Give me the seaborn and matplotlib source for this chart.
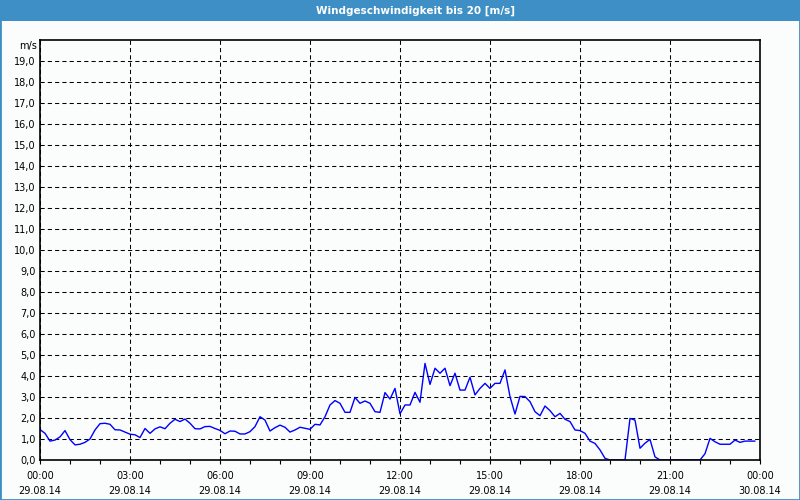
import pandas as pd
import matplotlib
matplotlib.use("Agg")
import matplotlib.pyplot as plt
import matplotlib.dates as mdates
from matplotlib.patches import Rectangle
from matplotlib.ticker import FuncFormatter
import seaborn as sns

# Windgeschwindigkeit, 10-Minuten-Werte am 29.08.14 (m/s)
start = "2014-08-29 00:00"
speed = [
    1.45, 1.27, 0.90, 0.95, 1.10, 1.40, 0.97, 0.72, 0.75, 0.84, 1.00, 1.43,
    1.73, 1.75, 1.70, 1.44, 1.43, 1.33, 1.23, 1.20, 1.07, 1.50, 1.27, 1.48,
    1.58, 1.49, 1.75, 1.94, 1.83, 1.95, 1.75, 1.49, 1.48, 1.59, 1.60, 1.50,
    1.41, 1.25, 1.38, 1.37, 1.24, 1.24, 1.35, 1.59, 2.06, 1.90, 1.38, 1.54,
    1.66, 1.56, 1.33, 1.43, 1.56, 1.51, 1.46, 1.70, 1.67, 2.06, 2.62, 2.83,
    2.70, 2.27, 2.27, 2.98, 2.70, 2.81, 2.70, 2.30, 2.27, 3.21, 2.90, 3.41,
    2.20, 2.62, 2.62, 3.22, 2.75, 4.60, 3.60, 4.37, 4.13, 4.37, 3.54, 4.13,
    3.33, 3.33, 3.94, 3.10, 3.41, 3.65, 3.41, 3.65, 3.65, 4.29, 3.02, 2.19,
    3.03, 3.02, 2.78, 2.30, 2.11, 2.57, 2.35, 2.06, 2.22, 1.94, 1.83, 1.43,
    1.40, 1.27, 0.90, 0.79, 0.48, 0.08, 0.00, 0.00, 0.00, 0.00, 1.98, 1.90,
    0.56, 0.80, 0.98, 0.15, 0.00, 0.00, 0.00, 0.00, 0.00, 0.00, 0.00, 0.00,
    0.00, 0.30, 1.03, 0.87, 0.75, 0.75, 0.75, 0.95, 0.84, 0.90, 0.90, 0.90,
]
y_ticks = list(range(0, 20))
title = "Windgeschwindigkeit bis 20 [m/s]"
unit = "m/s"

times = pd.date_range(start, periods=len(speed), freq="10min")
df = pd.DataFrame({"zeit": times, "wind": speed})

sns.set_style("ticks")
plt.rcParams["font.family"] = ["DejaVu Sans"]
plt.rcParams["text.color"] = "black"
plt.rcParams["xtick.color"] = "black"
plt.rcParams["ytick.color"] = "black"

bg = "#FAFDFB"
bar = "#3D8FC6"

fig = plt.figure(figsize=(8, 5), dpi=100, facecolor=bg)
ax = fig.add_axes([0.05, 0.08, 0.90, 0.84])
ax.set_facecolor(bg)

sns.lineplot(data=df, x="zeit", y="wind", color="#0000FF", linewidth=1, ax=ax, zorder=1)

ax.set_xlim(pd.Timestamp("2014-08-29 00:00"), pd.Timestamp("2014-08-30 00:00"))
ax.set_ylim(0, 20)
ax.set_xlabel("")
ax.set_ylabel("")

# Achsen
ax.xaxis.set_major_locator(mdates.HourLocator(byhour=range(0, 24, 3)))
ax.xaxis.set_minor_locator(mdates.HourLocator())
ax.xaxis.set_major_formatter(mdates.DateFormatter("%H:%M\n%d.%m.%y"))
ax.set_yticks(y_ticks)
ax.yaxis.set_major_formatter(FuncFormatter(lambda v, p: f"{v:.1f}".replace(".", ",")))

ax.tick_params(axis="x", which="both", direction="out", length=3, width=0.8,
               color="black", labelcolor="black", labelsize=7, pad=5)
ax.tick_params(axis="y", length=0, labelcolor="black", labelsize=7, pad=3)
for lbl in ax.get_xticklabels():
    lbl.set_linespacing(1.6)

ax.grid(True, which="major", color="black", linestyle=(0, (4, 3)), linewidth=0.75)
for s in ax.spines.values():
    s.set_visible(True)
    s.set_color("black")
    s.set_linewidth(1.2)
    s.set_zorder(5)

fig.text(37 / 800, 1 - 46 / 500, unit, ha="right", va="center", fontsize=7)

# Titelleiste und Rahmen
fig.add_artist(Rectangle((0, 1 - 21 / 500), 1, 21 / 500, transform=fig.transFigure,
                         facecolor=bar, edgecolor="none", zorder=0))
fig.text(0.52, 1 - 10.5 / 500, title, ha="center", va="center",
         color="white", fontsize=7.5, fontweight="bold")
fig.add_artist(Rectangle((0, 0), 1, 1, transform=fig.transFigure, fill=False,
                         edgecolor=bar, linewidth=2))

fig.savefig("out.png", dpi=100, facecolor=bg)
